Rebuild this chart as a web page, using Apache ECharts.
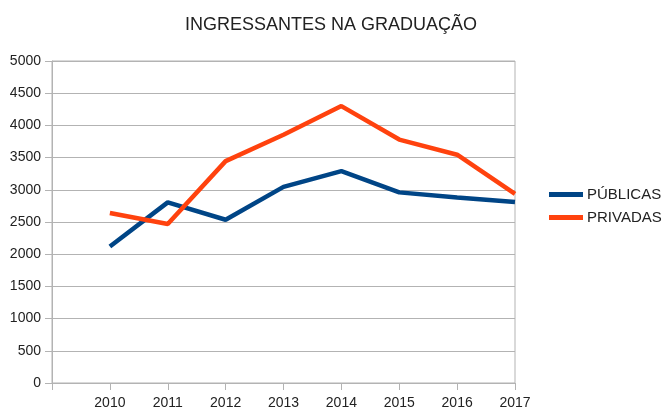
<!DOCTYPE html>
<html>
<head>
<meta charset="utf-8">
<script src="https://cdn.jsdelivr.net/npm/echarts@6/dist/echarts.min.js"></script>
<style>
  html, body { margin: 0; padding: 0; background: #fff; }
  #chart { width: 662px; height: 410px; }
</style>
</head>
<body>
<div id="chart"></div>
<script>
// anos (há uma posição vazia antes de 2010 no eixo)
const years = ['2010', '2011', '2012', '2013', '2014', '2015', '2016', '2017']
const publicas = [2120, 2805, 2535, 3045, 3290, 2960, 2880, 2810]
const privadas = [2640, 2470, 3445, 3855, 4300, 3780, 3545, 2935]
const yTicks = [0, 500, 1000, 1500, 2000, 2500, 3000, 3500, 4000, 4500, 5000]

const font = 'Liberation Sans'
const chart = echarts.init(document.getElementById('chart'))

chart.setOption({
  animation: false,
  title: {
    text: 'INGRESSANTES NA GRADUAÇÃO',
    left: 'center',
    top: 11,
    textStyle: { fontFamily: font, fontSize: 18, fontWeight: 'normal', color: '#222' }
  },
  legend: {
    orient: 'vertical',
    left: 544,
    top: 182,
    icon: 'rect',
    itemWidth: 34,
    itemHeight: 5,
    itemGap: 8,
    textStyle: { fontFamily: font, fontSize: 15, color: '#222', padding: [0, 0, 0, -1] },
    data: ['PÚBLICAS', 'PRIVADAS']
  },
  grid: {
    left: 52,
    right: 147,
    top: 61,
    bottom: 27,
    show: true,
    borderColor: '#b3b3b3',
    borderWidth: 1
  },
  xAxis: {
    type: 'category',
    boundaryGap: false,
    data: [''].concat(years),
    axisLine: { lineStyle: { color: '#b3b3b3' } },
    axisTick: { show: true, length: 7, interval: 0, lineStyle: { color: '#b3b3b3' } },
    axisLabel: { interval: 0, fontFamily: font, fontSize: 14, color: '#222', margin: 13 },
    splitLine: { show: false }
  },
  yAxis: {
    type: 'value',
    min: yTicks[0],
    max: yTicks[yTicks.length - 1],
    interval: 500,
    axisLine: { show: true, lineStyle: { color: '#b3b3b3' } },
    axisTick: { show: true, length: 7, lineStyle: { color: '#b3b3b3' } },
    axisLabel: { fontFamily: font, fontSize: 14, color: '#222', margin: 11, formatter: v => String(v) },
    splitLine: { lineStyle: { color: '#b3b3b3' } }
  },
  series: [{
    name: 'PÚBLICAS',
    type: 'line',
    symbol: 'none',
    data: [null].concat(publicas),
    itemStyle: { color: '#004586' },
    lineStyle: { color: '#004586', width: 4.5 }
  }, {
    name: 'PRIVADAS',
    type: 'line',
    symbol: 'none',
    data: [null].concat(privadas),
    itemStyle: { color: '#ff420e' },
    lineStyle: { color: '#ff420e', width: 4.5 }
  }]
})
</script>
</body>
</html>
